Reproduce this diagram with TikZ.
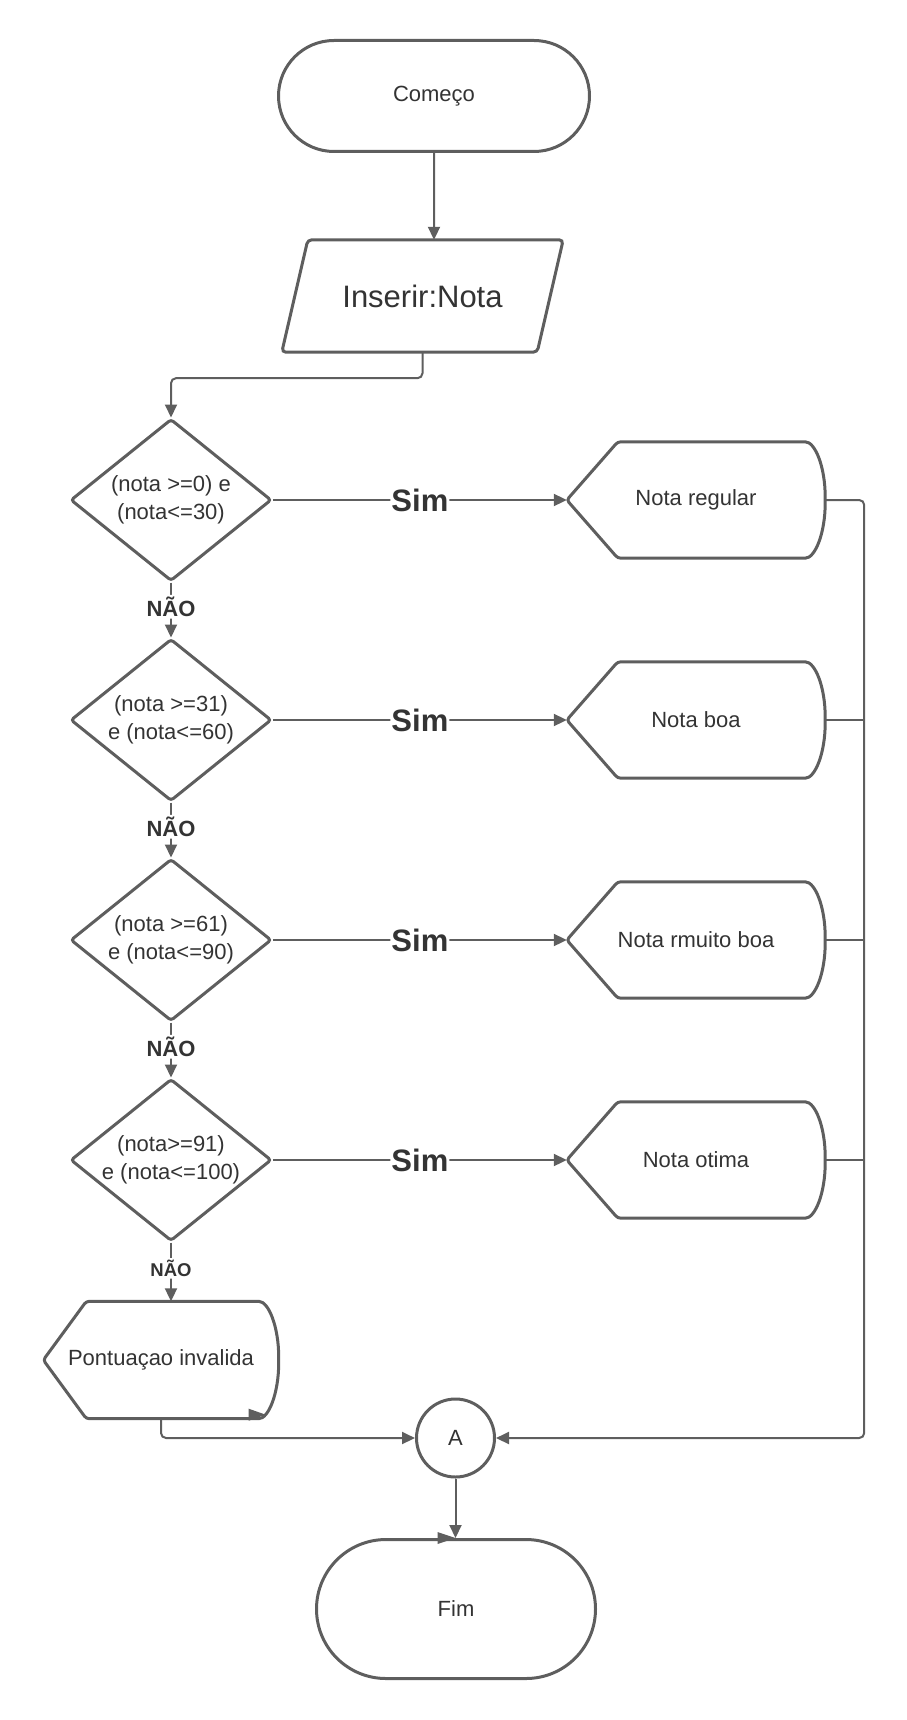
\documentclass[tikz,border=0pt]{standalone}
\usepackage{fontspec}
\setmainfont{Liberation Sans}
\usetikzlibrary{arrows.meta, positioning, shapes.geometric, shapes.misc}

\definecolor{linha}{HTML}{5E5E5E}
\definecolor{texto}{HTML}{333333}

% contorno de saida (ponta a esquerda, lado curvo a direita)
\newcommand{\saida}[2]{%
  \draw[forma, rounded corners=3pt] (#1.west) -- ([xshift=#2pt]#1.north west)
    -- ([xshift=-23pt]#1.north east)
    .. controls ([xshift=-10pt]#1.north east) and ([yshift=33pt]#1.east) .. (#1.east)
    .. controls ([yshift=-33pt]#1.east) and ([xshift=-10pt]#1.south east) .. ([xshift=-23pt]#1.south east)
    -- ([xshift=#2pt]#1.south west) -- cycle;}

\begin{document}
\begin{tikzpicture}[
    x=1pt, y=-1pt,
    node distance=220pt and 525pt, on grid,
    every node/.style={text=texto, font=\fontsize{22}{28}\selectfont},
    >={Triangle[length=13pt, width=12pt]}, % pontas das setas
    forma/.style={draw=linha, line width=3pt},
    terminal/.style={forma, rounded rectangle, minimum width=311pt, minimum height=111pt, inner sep=0pt},
    entrada/.style={minimum width=255pt, minimum height=112pt, inner sep=0pt},
    decisao/.style={forma, diamond, aspect=1.26, minimum width=201pt, minimum height=162pt,
        inner sep=-10pt, rounded corners=3pt, align=center},
    saidabox/.style={minimum width=258pt, minimum height=116pt, inner sep=0pt},
    conector/.style={forma, circle, minimum size=78pt, inner sep=0pt},
    seta/.style={draw=linha, line width=2pt, ->, rounded corners=5pt},
    linhab/.style={draw=linha, line width=2pt, rounded corners=5pt},
    sim/.style={fill=white, inner sep=1pt, font=\bfseries\fontsize{31}{32}\selectfont},
    nao/.style={pos=0.44, fill=white, inner sep=2pt, font=\bfseries\fontsize{22}{23}\selectfont}
]
\useasboundingbox (0,0) rectangle (906,1720);

% Nodes
\node[terminal] (inicio) at (434,96) {Começo};
\node[entrada] (ler) at (422.5,296) {\fontsize{31}{33}\selectfont Inserir:Nota};

\node[decisao] (d1) at (171,500) {(nota >=0) e\\(nota<=30)};
\node[decisao, below=of d1] (d2) {(nota >=31)\\e (nota<=60)};
\node[decisao, below=of d2] (d3) {(nota >=61)\\e (nota<=90)};
\node[decisao, below=of d3] (d4) {(nota>=91)\\e (nota<=100)};

\node[saidabox, right=of d1] (s1) {Nota regular};
\node[saidabox, right=of d2] (s2) {Nota boa};
\node[saidabox, right=of d3] (s3) {Nota rmuito boa};
\node[saidabox, right=of d4] (s4) {Nota otima};
\node[saidabox, minimum width=235pt, minimum height=117pt] (inv) at (161,1360) {Pontuaçao invalida};

\node[conector] (A) at (455.5,1438) {A};
\node[terminal, minimum width=279pt, minimum height=139pt] (fim) at (456,1609) {Fim};

% entrada (paralelogramo)
\draw[forma, rounded corners=4pt] ([xshift=-13pt]ler.south west) -- ([xshift=13pt]ler.north west)
  -- ([xshift=13pt]ler.north east) -- ([xshift=-13pt]ler.south east) -- cycle;

\saida{s1}{51}
\saida{s2}{51}
\saida{s3}{51}
\saida{s4}{51}
\saida{inv}{43}

% Arrows
\draw[seta] (inicio) -- (inicio |- ler.north);
\draw[seta] (ler.south) -- ++(0,26) -| (d1.north);

\draw[seta] (d1.east) -- node[sim] {Sim} (s1.west);
\draw[seta] (d2.east) -- node[sim] {Sim} (s2.west);
\draw[seta] (d3.east) -- node[sim] {Sim} (s3.west);
\draw[seta] (d4.east) -- node[sim] {Sim} (s4.west);

\draw[seta] (d1.south) -- node[nao] {NÃO} (d2.north);
\draw[seta] (d2.south) -- node[nao] {NÃO} (d3.north);
\draw[seta] (d3.south) -- node[nao] {NÃO} (d4.north);
\draw[seta] (d4.south) -- node[nao, font=\bfseries\fontsize{18.5}{19}\selectfont] {NÃO} (inv.north -| d4.south);

\draw[seta] (s1.east) -- ++(39,0) |- (A.east);
\foreach \s in {s2,s3,s4}
  \draw[linhab] (\s.east) -- ++(39,0);

\draw[seta] (inv.south) |- (A.west);
\draw[seta] (A.south) -- (A.south |- fim.north);

% pontas soltas
\fill[linha] ([xshift=-13pt, yshift=4pt]inv.south east) -- ++(-17,-6) -- ++(0,12) -- cycle;
\fill[linha] (A.south |- fim.north) -- ++(-18,-6) -- ++(0,12) -- cycle;

\end{tikzpicture}
\end{document}
